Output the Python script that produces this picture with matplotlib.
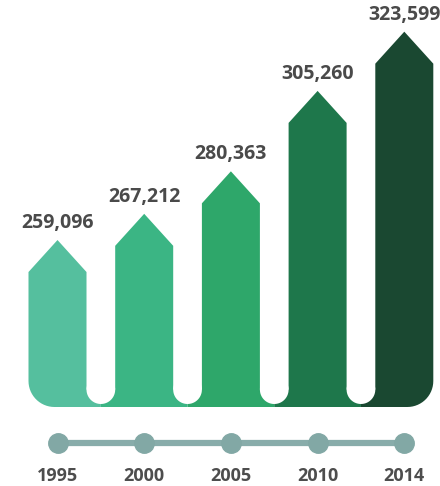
import numpy as np
import matplotlib
matplotlib.use("Agg")
import matplotlib.pyplot as plt
from matplotlib.patches import Polygon

plt.rcParams['font.family'] = ['Open Sans', 'DejaVu Sans']

# ---- data ----
years = ['1995', '2000', '2005', '2010', '2014']
values = [259096, 267212, 280363, 305260, 323599]
colors = ['#55bf9e', '#3bb584', '#2ea76a', '#1e774b', '#1a4831']

W, H = 440, 486
fig = plt.figure(figsize=(W / 100, H / 100), dpi=100)
ax = fig.add_axes([0, 0, 1, 1])
ax.axis('off')

# axis scales (pixel layout of the infographic)
x0_px, pitch = 57.5, 86.7
ax.set_xlim(-x0_px / pitch, (W - x0_px) / pitch)
base_val = 207400
ppu = 3.23 / 1000.0
base_px = 79
ax.set_ylim(base_val - base_px / ppu, base_val + (H - base_px) / ppu)

T = ax.transData
Tinv = T.inverted()

bar_w = 58.0
hw = bar_w / 2
hg = (pitch - bar_w) / 2
head = 32.0
strip = 3.0
r_out = 26.0
n = len(values)


def arc(cx, cy, r, a0, a1, k=16):
    t = np.linspace(np.radians(a0), np.radians(a1), k)
    return [(cx + r * np.cos(a), cy + r * np.sin(a)) for a in t]


for i, v in enumerate(values):
    cx, tip = T.transform((i, v))
    _, yb = T.transform((i, base_val))
    L, R = cx - hw, cx + hw
    sh = tip - head
    yk = yb + strip + hg
    pts = [(L, sh), (cx, tip), (R, sh)]
    if i < n - 1:
        pts += [(R, yk), (R + hg, yk), (R + hg, yb)]
    else:
        pts += arc(R - r_out, yb + r_out, r_out, 0, -90)
    if i > 0:
        pts += [(L - hg, yb), (L - hg, yk), (L, yk)]
    else:
        pts += arc(L + r_out, yb + r_out, r_out, -90, -180)
    ax.add_patch(Polygon(Tinv.transform(pts), closed=True, facecolor=colors[i],
                         edgecolor='none', zorder=2))
    if i < n - 1:
        circ = arc(R + hg, yk, hg, 0, 360, 60)
        ax.add_patch(Polygon(Tinv.transform(circ), closed=True, facecolor='white',
                             edgecolor='none', zorder=3))
    ax.annotate(f"{v:,}", (i, v), xytext=(0, 5), textcoords='offset points',
                ha='center', va='bottom', fontsize=14, fontweight='bold',
                color='#4a4a4a', zorder=5)

# timeline
xt = ax.get_xaxis_transform()
xs = list(range(n))
ax.plot(xs, [43 / H] * n, transform=xt, color='#88acaa', lw=4.5,
        marker='o', markersize=14, markerfacecolor='#82a8a5',
        markeredgecolor='#82a8a5', solid_capstyle='round', zorder=4)
for i, yr in enumerate(years):
    ax.text(i, 10 / H, yr, transform=xt, ha='center', va='center',
            fontsize=13, fontweight='bold', color='#4d4d4d')

fig.savefig('out.png', dpi=100, facecolor='white')
